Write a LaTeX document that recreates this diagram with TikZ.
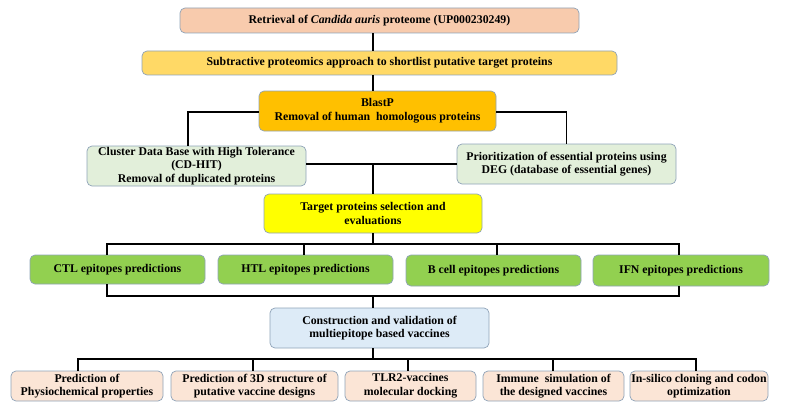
\documentclass[tikz,border=0pt]{standalone}
\usepackage{fontspec}
\setmainfont{Liberation Serif}
\begin{document}
\begin{tikzpicture}[x=1pt,y=-1pt,
  box/.style={draw=boxline, line width=0.7pt, rounded corners=5pt, align=center,
    inner sep=1pt, font=\fontsize{11.8}{13.6}\selectfont\bfseries},
  conn/.style={line width=1.8pt, line join=miter}]
\definecolor{boxline}{HTML}{8FA3B8}
\definecolor{cpeach}{HTML}{F8CBAD}
\definecolor{cgold}{HTML}{FFD966}
\definecolor{corange}{HTML}{FFC000}
\definecolor{cgreenlt}{HTML}{E2EFDA}
\definecolor{cyellow}{HTML}{FFFF00}
\definecolor{cgreen}{HTML}{92D050}
\definecolor{cblue}{HTML}{DDEBF7}
\definecolor{cpeachlt}{HTML}{FBE5D6}
\useasboundingbox (0,0) rectangle (790,404);
% nodes
\node[box, fill=cpeach, minimum width=399pt, minimum height=25pt] (b1) at (379.5,20.5)
  {Retrieval of \textit{Candida auris} proteome (UP000230249)};
\node[box, fill=cgold, minimum width=475pt, minimum height=24pt] (b2) at (379.5,63)
  {Subtractive proteomics approach to shortlist putative target proteins};
\node[box, fill=corange, minimum width=237pt, minimum height=40pt] (blast) at (377.5,111)
  {BlastP\\Removal of human\ \ homologous proteins};
\node[box, fill=cgreenlt, minimum width=219pt, minimum height=40pt] (cd) at (196.5,166)
  {Cluster Data Base with High Tolerance\\(CD-HIT)\\Removal of duplicated proteins};
\node[box, fill=cgreenlt, minimum width=219pt, minimum height=40pt] (deg) at (566.5,164)
  {Prioritization of essential proteins using\\DEG (database of essential genes)};
\node[box, fill=cyellow, minimum width=218pt, minimum height=39pt] (target) at (373,213.5)
  {Target proteins selection and\\evaluations};
\node[box, fill=cgreen, minimum width=175pt, minimum height=29pt] (ctl) at (117.5,269.5)
  {CTL epitopes predictions};
\node[box, fill=cgreen, minimum width=175pt, minimum height=29pt] (htl) at (305.5,269.5)
  {HTL epitopes predictions};
\node[box, fill=cgreen, minimum width=175pt, minimum height=31pt] (bcell) at (493.5,270.5)
  {B cell epitopes predictions};
\node[box, fill=cgreen, minimum width=176pt, minimum height=31pt] (ifn) at (681,270.5)
  {IFN epitopes predictions};
\node[box, fill=cblue, minimum width=219pt, minimum height=40pt] (cons) at (379.5,328)
  {Construction and validation of\\multiepitope based vaccines};
\node[box, fill=cpeachlt, minimum width=152pt, minimum height=30pt] (p1) at (87,386)
  {Prediction of\\Physiochemical properties};
\node[box, fill=cpeachlt, minimum width=167pt, minimum height=30pt] (p2) at (254.5,386)
  {Prediction of 3D structure of\\putative vaccine designs};
\node[box, fill=cpeachlt, minimum width=131pt, minimum height=30pt] (p3) at (410.5,386)
  {TLR2-vaccines\\molecular docking};
\node[box, fill=cpeachlt, minimum width=141pt, minimum height=30pt] (p4) at (553.5,386)
  {Immune\ \ simulation of\\the designed vaccines};
\node[box, fill=cpeachlt, minimum width=138pt, minimum height=30pt] (p5) at (699,386)
  {In-silico cloning and codon\\optimization};
% helper coordinates
\coordinate (sp) at (373,0);
\coordinate (cdx) at (188,0);
\coordinate (xa) at (107,0);
\coordinate (xb) at (304,0);
\coordinate (xc) at (497,0);
\coordinate (xd) at (679,0);
\coordinate (bus1) at (0,244);
\coordinate (bus2) at (0,296);
\coordinate (bus3) at (0,359);
\coordinate (q1) at (78,0);
\coordinate (q2) at (253,0);
\coordinate (q3) at (408,0);
\coordinate (q4) at (553,0);
\coordinate (q5) at (696,0);
% connectors
\draw[conn] (sp |- b1.south) -- (sp |- b2.north);
\draw[conn] (sp |- b2.south) -- (sp |- blast.north);
\draw[conn] (blast.west |- 0,112) -| (cdx |- cd.north);
\draw[conn] (blast.east |- 0,112) -| (deg.north);
\draw[conn] (deg.west -| cd.east) -- (deg.west);
\draw[conn] (sp |- deg.west) -- (target.north);
\draw[conn] (target.south) -- (sp |- bus1);
\draw[conn] (xa |- ctl.north) -- (xa |- bus1) -- (xd |- bus1) -- (xd |- ifn.north);
\draw[conn] (xb |- bus1) -- (xb |- htl.north);
\draw[conn] (xc |- bus1) -- (xc |- bcell.north);
\draw[conn] (xa |- ctl.south) -- (xa |- bus2) -- (xd |- bus2) -- (xd |- ifn.south);
\draw[conn] (sp |- bus2) -- (sp |- cons.north);
\draw[conn] (sp |- cons.south) -- (sp |- bus3);
\draw[conn] (q1 |- p1.north) -- (q1 |- bus3) -- (q5 |- bus3) -- (q5 |- p5.north);
\draw[conn] (q2 |- bus3) -- (q2 |- p2.north);
\draw[conn] (q3 |- bus3) -- (q3 |- p3.north);
\draw[conn] (q4 |- bus3) -- (q4 |- p4.north);
\end{tikzpicture}
\end{document}
